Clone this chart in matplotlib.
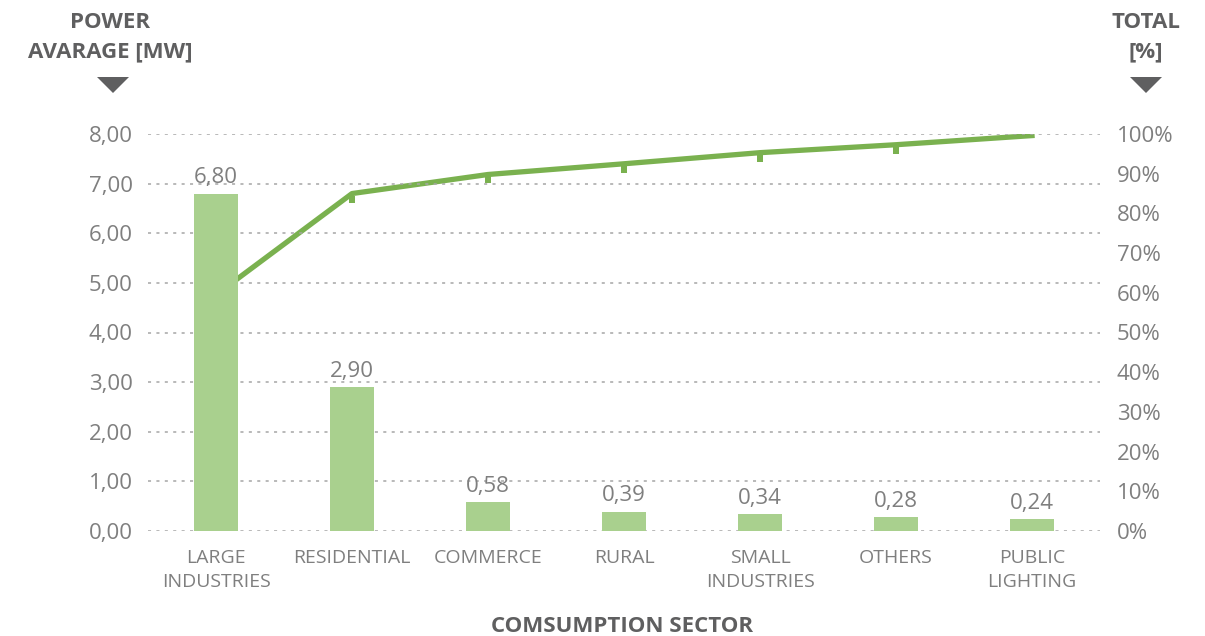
import matplotlib
matplotlib.use("Agg")
import matplotlib.pyplot as plt
from matplotlib.path import Path
from matplotlib.patches import Polygon

categories = ["LARGE\nINDUSTRIES", "RESIDENTIAL", "COMMERCE", "RURAL",
              "SMALL\nINDUSTRIES", "OTHERS", "PUBLIC\nLIGHTING"]
power_mw = [6.80, 2.90, 0.58, 0.39, 0.34, 0.28, 0.24]
cumulative_pct = [59.5, 85.0, 89.8, 92.5, 95.3, 97.3, 99.6]
left_ticks = [0, 1, 2, 3, 4, 5, 6, 7, 8]
right_ticks = [0, 10, 20, 30, 40, 50, 60, 70, 80, 90, 100]

BAR = "#A9D08E"
LINE = "#7AB14F"
TXT = "#7F7F7F"
HEAD = "#5F5F60"
FONT = "Open Sans"

plt.rcParams["font.family"] = [FONT, "DejaVu Sans"]

fig = plt.figure(figsize=(12.05, 6.36), dpi=100)
ax = fig.add_axes([148/1205, 1-531/636, (1100-148)/1205, (531-134)/636])
ax2 = ax.twinx()
ax.set_zorder(ax2.get_zorder() + 1)
ax.patch.set_visible(False)

x = list(range(len(categories)))
ax.bar(x, power_mw, width=0.32, color=BAR, zorder=3)
for xi, v in zip(x, power_mw):
    ax.annotate(f"{v:.2f}".replace(".", ","), (xi, v), xytext=(0, 4),
                textcoords="offset points", ha="center", va="bottom",
                fontsize=16, color=TXT)

ax.set_xlim(-0.5, len(categories) - 0.5)
ax.set_ylim(0, 8)
ax.set_yticks(left_ticks)
ax.set_yticklabels([f"{t:.2f}".replace(".", ",") for t in left_ticks])
ax.yaxis.grid(True, linestyle=(0, (2, 3.5)), color="#A6A6A6", linewidth=1.1)
ax.set_axisbelow(True)
ax.set_xticks(x)
ax.set_xticklabels(categories, fontsize=14, color=TXT, linespacing=1.45)
ax.tick_params(axis="y", length=0, labelsize=16, labelcolor=TXT, pad=11)
ax.tick_params(axis="x", length=0, pad=13)

# custom offset square markers
down_sq = Path([(-0.35, -1.0), (0.35, -1.0), (0.35, -0.2), (-0.35, -0.2), (-0.35, -1.0)],
               [Path.MOVETO, Path.LINETO, Path.LINETO, Path.LINETO, Path.CLOSEPOLY])
up_sq = Path([(-0.35, 1.0), (0.35, 1.0), (0.35, 0.2), (-0.35, 0.2), (-0.35, 1.0)],
             [Path.MOVETO, Path.LINETO, Path.LINETO, Path.LINETO, Path.CLOSEPOLY])
ax2.plot(x, cumulative_pct, color=LINE, linewidth=3.8, solid_joinstyle="round")
ax2.plot(x[1:-1], cumulative_pct[1:-1], linestyle="none", marker=down_sq,
         markersize=13, color=LINE, markeredgewidth=0)
ax2.plot(x[-1:], cumulative_pct[-1:], linestyle="none", marker=up_sq,
         markersize=13, color=LINE, markeredgewidth=0)
ax2.set_ylim(0, 100)
ax2.set_yticks(right_ticks)
ax2.set_yticklabels([f"{t}%" for t in right_ticks])
ax2.tick_params(axis="y", length=0, labelsize=16, labelcolor=TXT, pad=12)

for a in (ax, ax2):
    for s in a.spines.values():
        s.set_visible(False)

# headers
HS = 16
fig.text(110/1205, 1-22/636, "POWER", ha="center", va="center",
         fontsize=HS, fontweight="bold", color=HEAD)
fig.text(110/1205, 1-52/636, "AVARAGE [MW]", ha="center", va="center",
         fontsize=HS, fontweight="bold", color=HEAD)
fig.text(1146/1205, 1-22/636, "TOTAL", ha="center", va="center",
         fontsize=HS, fontweight="bold", color=HEAD)
fig.text(1146/1205, 1-52/636, "[%]", ha="center", va="center",
         fontsize=HS, fontweight="bold", color=HEAD)
fig.text(622/1205, 1-626/636, "COMSUMPTION SECTOR", ha="center", va="center",
         fontsize=HS, fontweight="bold", color=HEAD)

for cx in (113, 1146):
    tri = Polygon([((cx-16)/1205, 1-77/636), ((cx+16)/1205, 1-77/636),
                   (cx/1205, 1-93/636)], closed=True, transform=fig.transFigure,
                  facecolor=HEAD, edgecolor="none")
    fig.patches.append(tri)

fig.savefig("out.png", dpi=100)
